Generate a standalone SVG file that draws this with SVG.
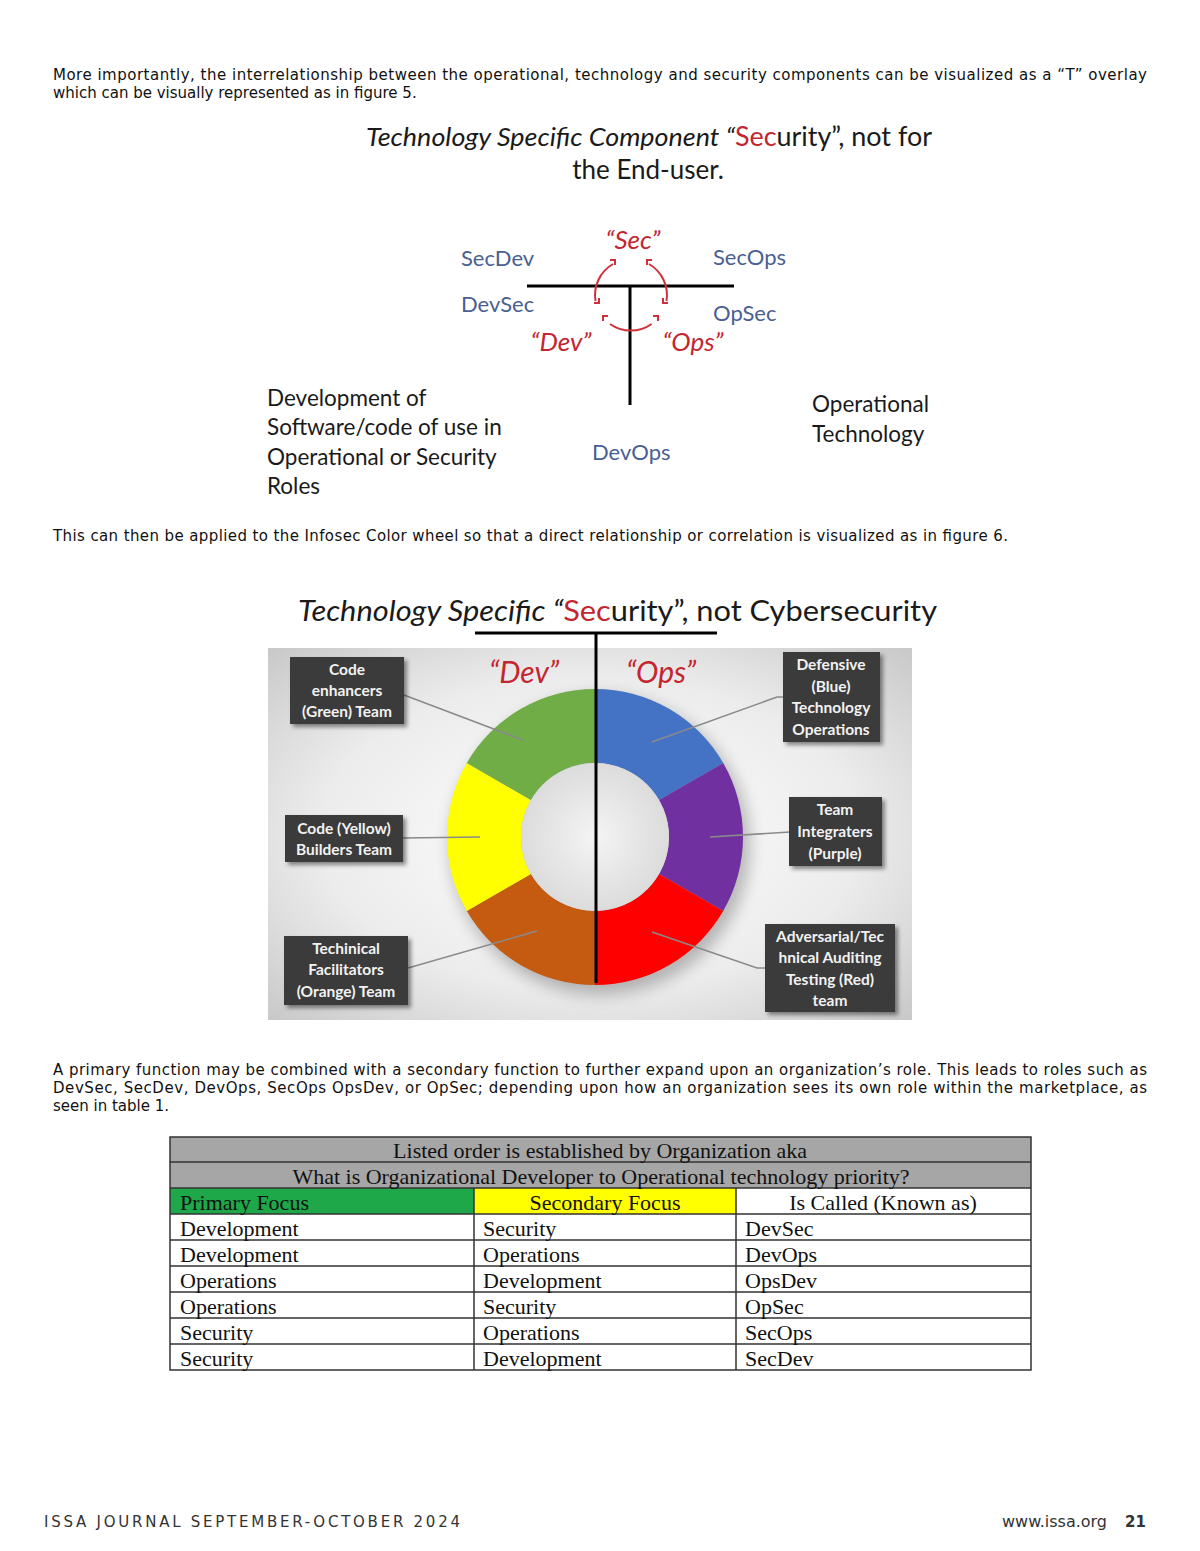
<svg xmlns="http://www.w3.org/2000/svg" width="1200" height="1551" viewBox="0 0 1200 1551">
<defs>
<style>
.para{font-family:"DejaVu Sans",Verdana,sans-serif;font-size:15px;fill:#111}
.cal{font-family:Lato,"Open Sans",sans-serif}
.blue{font-family:Lato,"Open Sans",sans-serif;font-size:22px;fill:#4a5f93}
.redq{font-family:Lato,"Open Sans",sans-serif;font-style:italic;fill:#c3262f}
.dark{font-family:Lato,"Open Sans",sans-serif;font-size:22.5px;fill:#1a1a1a}
.lbl{font-family:Lato,"Open Sans",sans-serif;font-weight:bold;font-size:15.5px;fill:#f2f2f2;text-anchor:middle}
.box{fill:#3b3b3b;filter:url(#sh)}
.lead{stroke:#8a8a8a;stroke-width:1.5;fill:none}
.tbl{font-family:"Liberation Serif","Times New Roman",serif;font-size:22px;fill:#111}
.grid{stroke:#333;stroke-width:1.5;fill:none}
.arc{stroke:#d0303a;stroke-width:2;fill:none}
</style>
<filter id="sh" x="-20%" y="-20%" width="150%" height="150%">
<feDropShadow dx="3" dy="3" stdDeviation="2" flood-color="#000" flood-opacity="0.45"/>
</filter>
<filter id="blur" x="-30%" y="-30%" width="160%" height="160%"><feGaussianBlur stdDeviation="8"/></filter>
<radialGradient id="panel" cx="0.5" cy="0.5" r="0.7">
<stop offset="0" stop-color="#ffffff"/>
<stop offset="0.6" stop-color="#ececec"/>
<stop offset="1" stop-color="#c9c9c9"/>
</radialGradient>
<radialGradient id="hole" cx="0.5" cy="0.5" r="0.5">
<stop offset="0" stop-color="#f4f4f4"/>
<stop offset="1" stop-color="#dcdcdc"/>
</radialGradient>
</defs>
<rect width="1200" height="1551" fill="#ffffff"/>

<!-- Paragraph 1 -->
<text class="para" x="53" y="80" textLength="1094" lengthAdjust="spacing">More importantly, the interrelationship between the operational, technology and security components can be visualized as a “T” overlay</text>
<text class="para" x="53" y="98">which can be visually represented as in figure 5.</text>

<!-- Figure 5 -->
<g id="fig5-title">
<text class="cal" x="366" y="146" font-size="26" fill="#1a1a1a" textLength="566" lengthAdjust="spacingAndGlyphs"><tspan font-style="italic">Technology Specific Component “</tspan><tspan fill="#c3262f">Sec</tspan><tspan>urity”, not for</tspan></text>
<text class="cal" x="648" y="179" font-size="26" fill="#1a1a1a" text-anchor="middle">the End-user.</text>
</g>
<g id="connectors-T">
<line x1="527" y1="286" x2="734" y2="286" stroke="#000" stroke-width="3"/>
<line x1="630" y1="286" x2="630" y2="405" stroke="#000" stroke-width="3"/>
<path class="arc" d="M613 264 A36 36 0 0 0 595.5 301"/>
<path class="arc" d="M649 264 A36 36 0 0 1 666.5 301"/>
<path class="arc" d="M610 324 A36 36 0 0 0 651.6 324"/>
<path class="arc" stroke-width="1.6" d="M610 260 h5 v5 M652 260 h-5 v5 M594 303 h5 v-5 M603 321 v-5 h5 M668 303 h-5 v-5 M658 321 v-5 h-5"/>
</g>
<g id="sec"><text class="redq" x="633" y="249" font-size="26" text-anchor="middle">“Sec”</text></g>
<g id="dev"><text class="redq" x="561" y="351" font-size="26" text-anchor="middle">“Dev”</text></g>
<g id="ops"><text class="redq" x="693" y="351" font-size="26" text-anchor="middle">“Ops”</text></g>
<g id="secdev"><text class="blue" x="461" y="266">SecDev</text></g>
<g id="secops"><text class="blue" x="713" y="265">SecOps</text></g>
<g id="devsec"><text class="blue" x="461" y="312">DevSec</text></g>
<g id="opsec"><text class="blue" x="713" y="321">OpSec</text></g>
<g id="devops"><text class="blue" x="592" y="460">DevOps</text></g>
<g id="dev-desc">
<text class="dark" x="267" y="406">Development of</text>
<text class="dark" x="267" y="435">Software/code of use in</text>
<text class="dark" x="267" y="465">Operational or Security</text>
<text class="dark" x="267" y="494">Roles</text>
</g>
<g id="ops-desc">
<text class="dark" x="812" y="412">Operational</text>
<text class="dark" x="812" y="442">Technology</text>
</g>

<text class="para" x="53" y="541" textLength="955" lengthAdjust="spacing">This can then be applied to the Infosec Color wheel so that a direct relationship or correlation is visualized as in figure 6.</text>

<!-- Figure 6 -->
<g id="fig6-title">
<text class="cal" x="298" y="621" font-size="29" fill="#1a1a1a" textLength="639" lengthAdjust="spacingAndGlyphs"><tspan font-style="italic">Technology Specific “</tspan><tspan fill="#c3262f">Sec</tspan><tspan>urity”, not Cybersecurity</tspan></text>
</g>
<rect x="268" y="648" width="644" height="372" fill="url(#panel)"/>
<circle cx="600" cy="845" r="150" fill="#000" opacity="0.25" filter="url(#blur)"/>
<g id="wheel">
<path fill="#4472c4" d="M595 689 A148 148 0 0 1 723.2 763 L659.1 800 A74 74 0 0 0 595 763 Z"/>
<path fill="#7030a0" d="M723.2 763 A148 148 0 0 1 723.2 911 L659.1 874 A74 74 0 0 0 659.1 800 Z"/>
<path fill="#ff0000" d="M723.2 911 A148 148 0 0 1 595 985 L595 911 A74 74 0 0 0 659.1 874 Z"/>
<path fill="#c55a11" d="M595 985 A148 148 0 0 1 466.8 911 L530.9 874 A74 74 0 0 0 595 911 Z"/>
<path fill="#ffff00" d="M466.8 911 A148 148 0 0 1 466.8 763 L530.9 800 A74 74 0 0 0 530.9 874 Z"/>
<path fill="#70ad47" d="M466.8 763 A148 148 0 0 1 595 689 L595 763 A74 74 0 0 0 530.9 800 Z"/>
<circle cx="595" cy="837" r="74" fill="url(#hole)"/>
</g>
<g id="connectors">
<line x1="475" y1="633" x2="717" y2="633" stroke="#000" stroke-width="3"/>
<line x1="596" y1="633" x2="596" y2="983" stroke="#000" stroke-width="3"/>
<path class="lead" d="M404 695 L523 740"/>
<path class="lead" d="M403 838 L480 837"/>
<path class="lead" d="M408 968 L537 931"/>
<path class="lead" d="M652 742 L777 697 L783 697"/>
<path class="lead" d="M710 837 L790 832"/>
<path class="lead" d="M652 932 L757 968 L765 968"/>
</g>
<g id="dev6"><text class="redq" x="524" y="683" font-size="30" text-anchor="middle">“Dev”</text></g>
<g id="ops6"><text class="redq" x="661" y="683" font-size="30" text-anchor="middle">“Ops”</text></g>
<g id="green-team">
<rect class="box" x="290" y="657" width="114" height="67"/>
<text class="lbl" x="347" y="675">Code</text>
<text class="lbl" x="347" y="696">enhancers</text>
<text class="lbl" x="347" y="717">(Green) Team</text>
</g>
<g id="yellow-team">
<rect class="box" x="285" y="815" width="118" height="47"/>
<text class="lbl" x="344" y="834">Code (Yellow)</text>
<text class="lbl" x="344" y="855">Builders Team</text>
</g>
<g id="orange-team">
<rect class="box" x="284" y="936" width="124" height="69"/>
<text class="lbl" x="346" y="954">Techinical</text>
<text class="lbl" x="346" y="975">Facilitators</text>
<text class="lbl" x="346" y="997">(Orange) Team</text>
</g>
<g id="blue-team">
<rect class="box" x="783" y="652" width="97" height="90"/>
<text class="lbl" x="831" y="670">Defensive</text>
<text class="lbl" x="831" y="692">(Blue)</text>
<text class="lbl" x="831" y="713">Technology</text>
<text class="lbl" x="831" y="735">Operations</text>
</g>
<g id="purple-team">
<rect class="box" x="789" y="797" width="93" height="69"/>
<text class="lbl" x="835" y="815">Team</text>
<text class="lbl" x="835" y="837">Integraters</text>
<text class="lbl" x="835" y="859">(Purple)</text>
</g>
<g id="red-team">
<rect class="box" x="765" y="924" width="130" height="88"/>
<text class="lbl" x="830" y="942">Adversarial/Tec</text>
<text class="lbl" x="830" y="963">hnical Auditing</text>
<text class="lbl" x="830" y="985">Testing (Red)</text>
<text class="lbl" x="830" y="1006">team</text>
</g>

<!-- Paragraph 3 -->
<text class="para" x="53" y="1075" textLength="1094" lengthAdjust="spacing">A primary function may be combined with a secondary function to further expand upon an organization’s role. This leads to roles such as</text>
<text class="para" x="53" y="1093" textLength="1094" lengthAdjust="spacing">DevSec, SecDev, DevOps, SecOps OpsDev, or OpSec; depending upon how an organization sees its own role within the marketplace, as</text>
<text class="para" x="53" y="1111">seen in table 1.</text>

<!-- Table 1 -->
<g id="table1">
<rect x="170" y="1137" width="861" height="51" fill="#a6a6a6"/>
<rect x="170" y="1188" width="304" height="26" fill="#1ea84a"/>
<rect x="474" y="1188" width="262" height="26" fill="#ffff00"/>
<rect x="170" y="1137" width="861" height="233" class="grid"/>
<path class="grid" d="M170 1162 H1031 M170 1188 H1031 M170 1214 H1031 M170 1240 H1031 M170 1266 H1031 M170 1292 H1031 M170 1318 H1031 M170 1344 H1031 M474 1188 V1370 M736 1188 V1370"/>
<text class="tbl" x="600" y="1158" text-anchor="middle">Listed order is established by Organization aka</text>
<text class="tbl" x="601" y="1184" text-anchor="middle">What is Organizational Developer to Operational technology priority?</text>
<text class="tbl" x="180" y="1210">Primary Focus</text>
<text class="tbl" x="605" y="1210" text-anchor="middle">Secondary Focus</text>
<text class="tbl" x="883" y="1210" text-anchor="middle">Is Called (Known as)</text>
<text class="tbl" x="180" y="1236">Development</text><text class="tbl" x="483" y="1236">Security</text><text class="tbl" x="745" y="1236">DevSec</text>
<text class="tbl" x="180" y="1262">Development</text><text class="tbl" x="483" y="1262">Operations</text><text class="tbl" x="745" y="1262">DevOps</text>
<text class="tbl" x="180" y="1288">Operations</text><text class="tbl" x="483" y="1288">Development</text><text class="tbl" x="745" y="1288">OpsDev</text>
<text class="tbl" x="180" y="1314">Operations</text><text class="tbl" x="483" y="1314">Security</text><text class="tbl" x="745" y="1314">OpSec</text>
<text class="tbl" x="180" y="1340">Security</text><text class="tbl" x="483" y="1340">Operations</text><text class="tbl" x="745" y="1340">SecOps</text>
<text class="tbl" x="180" y="1366">Security</text><text class="tbl" x="483" y="1366">Development</text><text class="tbl" x="745" y="1366">SecDev</text>
</g>

<!-- Footer -->
<text x="44" y="1527" font-family="'DejaVu Sans',Verdana,sans-serif" font-size="15" fill="#333" textLength="416" lengthAdjust="spacing">ISSA JOURNAL SEPTEMBER-OCTOBER 2024</text>
<text x="1002" y="1527" font-family="'DejaVu Sans',Verdana,sans-serif" font-size="15" fill="#333" textLength="105" lengthAdjust="spacingAndGlyphs">www.issa.org</text>
<text x="1125" y="1527" font-family="'DejaVu Sans',Verdana,sans-serif" font-size="15" font-weight="bold" fill="#333">21</text>
</svg>
